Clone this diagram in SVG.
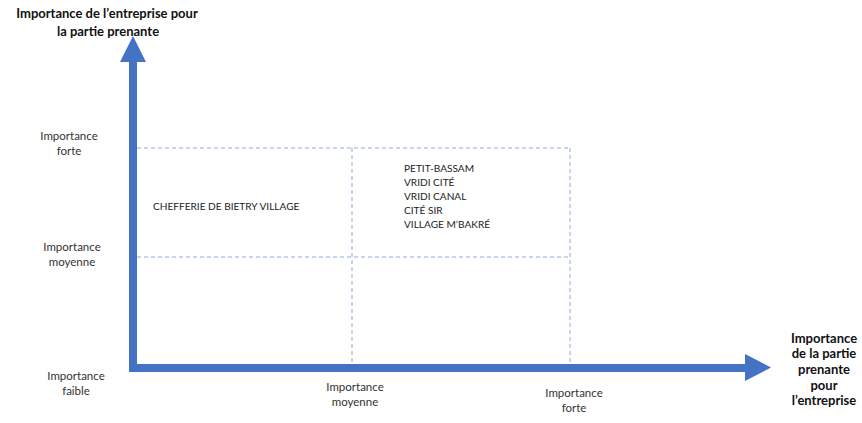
<svg xmlns="http://www.w3.org/2000/svg" width="862" height="423" viewBox="0 0 862 423">
<style>
.t{font-family:Lato,"Liberation Sans",sans-serif;font-size:11.5px;fill:#333;text-anchor:middle}
.b{font-family:Lato,"Liberation Sans",sans-serif;font-size:13px;font-weight:bold;fill:#111;text-anchor:middle}
.q{font-family:Lato,"Liberation Sans",sans-serif;font-size:10.1px;fill:#222}
.grid{stroke:#8faadc;stroke-width:1;stroke-dasharray:4 3;fill:none}
.ax{fill:#4472c4}
</style>
<rect width="862" height="423" fill="#fff"/>
<g id="grid">
<line class="grid" x1="137" y1="148" x2="570" y2="148"/>
<line class="grid" x1="137" y1="257" x2="570" y2="257"/>
<line class="grid" x1="352" y1="148" x2="352" y2="364"/>
<line class="grid" x1="570" y1="148" x2="570" y2="364"/>
</g>
<g id="connectors">
<rect class="ax" x="129" y="60" width="8" height="312"/>
<polygon class="ax" points="120,62 146,62 133,36"/>
<rect class="ax" x="129" y="364" width="618" height="8"/>
<polygon class="ax" points="745,354 745,381 771,367.5"/>
</g>
<g id="y-title"><text class="b" x="107" y="18">Importance de l’entreprise pour</text><text class="b" x="108" y="36">la partie prenante</text></g>
<g id="x-title"><text class="b" x="824" y="343">Importance</text><text class="b" x="824" y="358">de la partie</text><text class="b" x="824" y="374">prenante</text><text class="b" x="824" y="390">pour</text><text class="b" x="824" y="405">l’entreprise</text></g>
<g id="y-forte"><text class="t" x="69" y="140">Importance</text><text class="t" x="69" y="155">forte</text></g>
<g id="y-moyenne"><text class="t" x="72" y="251">Importance</text><text class="t" x="72" y="266">moyenne</text></g>
<g id="y-faible"><text class="t" x="76" y="380">Importance</text><text class="t" x="76" y="395">faible</text></g>
<g id="x-moyenne"><text class="t" x="355" y="391">Importance</text><text class="t" x="355" y="406">moyenne</text></g>
<g id="x-forte"><text class="t" x="574" y="397">Importance</text><text class="t" x="574" y="412">forte</text></g>
<g id="q-left"><text class="q" x="153" y="210">CHEFFERIE DE BIETRY VILLAGE</text></g>
<g id="q-right"><text class="q" x="404" y="172">PETIT-BASSAM</text><text class="q" x="404" y="186">VRIDI CITÉ</text><text class="q" x="404" y="200">VRIDI CANAL</text><text class="q" x="404" y="214">CITÉ SIR</text><text class="q" x="404" y="228">VILLAGE M’BAKRÉ</text></g>
</svg>
